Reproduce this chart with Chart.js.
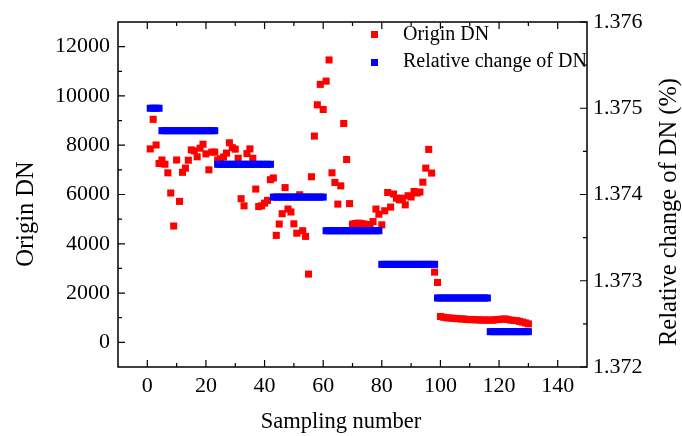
<!DOCTYPE html>
<html>
<head>
<meta charset="utf-8">
<script src="https://cdn.jsdelivr.net/npm/chart.js@4.4.0/dist/chart.umd.min.js"></script>
<style>
  html, body { margin: 0; padding: 0; background: #fff; }
  #wrap { width: 682px; height: 436px; }
</style>
</head>
<body>
<div id="wrap"><canvas id="mycanvas" width="682" height="436"></canvas></div>
<script>
// red points: Origin DN, sample 1..130
var originDN = [
  7850, 9050, 8010, 7260, 7400, 7230, 6880, 6060, 4720, 7400,
  5720, 6900, 7070, 7390, 7810, 7770, 7530, 7880, 8040, 7650,
  7000, 7720, 7720, 7400, 7450, 7520, 7680, 8100, 7900, 7840,
  7470, 5830, 5540, 7660, 7850, 7470, 6220, 5510, 5540, 5650,
  5760, 6600, 6670, 4340, 4800, 5220, 6280, 5410, 5290, 4810,
  4430, 5990, 4530, 4300, 2770, 6720, 8370, 9640, 10470, 9450,
  10600, 11460, 6880, 6490, 5610, 6350, 8880, 7420, 5630, 4800,
  4820, 4840, 4820, 4800, 4780, 4770, 4900, 5410, 5200, 4770,
  5340, 6080, 5490, 6020, 5850, 5780, 5850, 5580, 5950, 5900,
  6120, 6060, 6100, 6500, 7070, 7830, 6870, 2850, 2430, 1050,
  1020, 1000, 990, 980, 970, 960, 950, 950, 930, 920,
  930, 910, 920, 900, 910, 900, 910, 900, 920, 930,
  940, 950, 930, 900, 890, 880, 850, 820, 790, 750
];

// blue steps: relative change of DN (%), each level with the samples it covers
var relLevels = [1.37500, 1.37474, 1.37435, 1.37397, 1.37358, 1.37319, 1.37280, 1.37241];
var relCounts = [4, 19, 19, 18, 19, 19, 18, 14];

var xTicks = [0, 20, 40, 60, 80, 100, 120, 140];
var xMinor = [10, 30, 50, 70, 90, 110, 130];
var yTicks = [0, 2000, 4000, 6000, 8000, 10000, 12000];
var yMinor = [1000, 3000, 5000, 7000, 9000, 11000];
var y1Ticks = [1.372, 1.373, 1.374, 1.375, 1.376];
var y1Minor = [1.3725, 1.3735, 1.3745, 1.3755];

var redPts = [];
for (var i = 0; i < originDN.length; i++) {
  redPts.push({x: i + 1, y: originDN[i]});
}
var bluePts = [];
var n = 1;
for (var k = 0; k < relLevels.length; k++) {
  for (var j = 0; j < relCounts[k]; j++) {
    bluePts.push({x: n, y: relLevels[k]});
    n++;
  }
}

var FONT = "'Liberation Serif', 'Times New Roman', serif";

function setTicks(list) {
  return function(scale) {
    scale.ticks = list.map(function(v) { return {value: v}; });
  };
}

var framePlugin = {
  id: 'frame',
  afterDraw: function(chart) {
    var ctx = chart.ctx;
    var a = chart.chartArea;
    var sx = chart.scales.x, sy = chart.scales.y, sy1 = chart.scales.y1;
    ctx.save();
    ctx.strokeStyle = '#000';
    ctx.lineWidth = 1.5;
    ctx.strokeRect(a.left, a.top, a.right - a.left, a.bottom - a.top);
    ctx.lineWidth = 1.2;
    ctx.beginPath();
    function xt(list, len) {
      list.forEach(function(v) {
        var p = sx.getPixelForValue(v);
        ctx.moveTo(p, a.bottom); ctx.lineTo(p, a.bottom - len);
        ctx.moveTo(p, a.top); ctx.lineTo(p, a.top + len);
      });
    }
    xt(xTicks, 7); xt(xMinor, 4);
    yTicks.forEach(function(v) {
      var p = sy.getPixelForValue(v);
      ctx.moveTo(a.left, p); ctx.lineTo(a.left + 7, p);
    });
    yMinor.forEach(function(v) {
      var p = sy.getPixelForValue(v);
      ctx.moveTo(a.left, p); ctx.lineTo(a.left + 4, p);
    });
    y1Ticks.forEach(function(v) {
      var p = sy1.getPixelForValue(v);
      ctx.moveTo(a.right, p); ctx.lineTo(a.right - 7, p);
    });
    y1Minor.forEach(function(v) {
      var p = sy1.getPixelForValue(v);
      ctx.moveTo(a.right, p); ctx.lineTo(a.right - 4, p);
    });
    ctx.stroke();

    // legend
    ctx.fillStyle = '#ff0000';
    ctx.fillRect(371, 31, 7, 7);
    ctx.fillStyle = '#0000ff';
    ctx.fillRect(371, 59, 7, 7);
    ctx.fillStyle = '#000';
    ctx.font = '20px ' + FONT;
    ctx.textAlign = 'left';
    ctx.textBaseline = 'middle';
    ctx.fillText('Origin DN', 403, 35);
    ctx.fillText('Relative change of DN', 403, 62);

    // axis titles
    ctx.textAlign = 'center';
    ctx.font = '22.5px ' + FONT;
    ctx.fillText('Sampling number', 341, 422);
    ctx.font = '24.5px ' + FONT;
    ctx.save();
    ctx.translate(27, 214);
    ctx.rotate(-Math.PI / 2);
    ctx.fillText('Origin DN', 0, 0);
    ctx.restore();
    ctx.translate(670, 212);
    ctx.rotate(-Math.PI / 2);
    ctx.fillText('Relative change of DN (%)', 0, 0);
    ctx.restore();
  }
};

var ctx = document.getElementById('mycanvas');
var chart = new Chart(ctx, {
  type: 'scatter',
  data: {
    datasets: [
      {
        label: 'Origin DN',
        data: redPts,
        yAxisID: 'y',
        pointStyle: 'rect',
        pointRadius: 5,
        pointBackgroundColor: '#ff0000',
        pointBorderWidth: 0,
        order: 2
      },
      {
        label: 'Relative change of DN',
        data: bluePts,
        yAxisID: 'y1',
        pointStyle: 'rect',
        pointRadius: 5,
        pointBackgroundColor: '#0000ff',
        pointBorderWidth: 0,
        order: 1
      }
    ]
  },
  options: {
    responsive: false,
    animation: false,
    layout: { padding: { top: 22, left: 0, right: 0, bottom: 0 } },
    plugins: { legend: { display: false }, tooltip: { enabled: false } },
    scales: {
      x: {
        type: 'linear',
        min: -10, max: 150,
        afterBuildTicks: setTicks(xTicks),
        afterFit: function(s) { s.height = 69; },
        grid: { display: false, drawTicks: false },
        border: { display: false },
        ticks: {
          color: '#000', font: { family: FONT, size: 22 }, padding: 6, maxRotation: 0,
          callback: function(v) { return String(v); }
        }
      },
      y: {
        type: 'linear', position: 'left',
        min: -1000, max: 13000,
        afterBuildTicks: setTicks(yTicks),
        afterFit: function(s) { s.width = 118; },
        grid: { display: false, drawTicks: false },
        border: { display: false },
        ticks: {
          color: '#000', font: { family: FONT, size: 22 }, padding: 8,
          callback: function(v) { return String(v); }
        }
      },
      y1: {
        type: 'linear', position: 'right',
        min: 1.372, max: 1.376,
        afterBuildTicks: setTicks(y1Ticks),
        afterFit: function(s) { s.width = 95; },
        grid: { display: false, drawTicks: false },
        border: { display: false },
        ticks: {
          color: '#000', font: { family: FONT, size: 22 }, padding: 6,
          callback: function(v) { return v.toFixed(3); }
        }
      }
    }
  },
  plugins: [framePlugin]
});
</script>
</body>
</html>
